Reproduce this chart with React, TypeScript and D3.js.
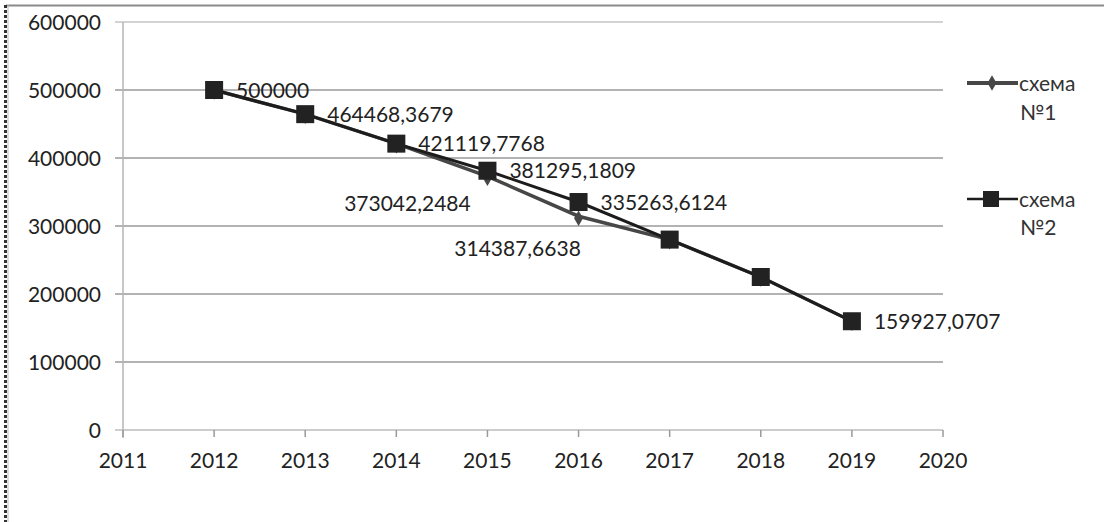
import React from "react";
import * as d3 from "d3";

const W = 1104;
const H = 522;

const years = [2012, 2013, 2014, 2015, 2016, 2017, 2018, 2019];
const scheme1 = [500000, 464468.3679, 421119.7768, 373042.2484, 314387.6638, 280000, 225000, 159927.0707];
const scheme2 = [500000, 464468.3679, 421119.7768, 381295.1809, 335263.6124, 280000, 225000, 159927.0707];
const yTicks = [0, 100000, 200000, 300000, 400000, 500000, 600000];
const xTicks = [2011, 2012, 2013, 2014, 2015, 2016, 2017, 2018, 2019, 2020];
const seriesNames = ["схема", "схема"];
const seriesNums = ["№1", "№2"];

// which points carry a data label
const s1Labelled = [3, 4];
const s2Labelled = [0, 1, 2, 3, 4, 7];
// hand-moved label offsets for scheme 1 (centre of text relative to point)
const s1LabelOffset: Record<number, [number, number]> = { 3: [-80, 27], 4: [-61, 32] };

const FONT = "Lato, 'Open Sans', sans-serif";
const FS = 21;

const fmt = (v: number) => (Number.isInteger(v) ? String(v) : v.toFixed(4).replace(".", ","));

const App = () => {
  const x = d3.scaleLinear().domain([2011, 2020]).range([123, 943]);
  const y = d3.scaleLinear().domain([0, 600000]).range([430, 22]);

  const line = d3
    .line<number>()
    .x((_, i) => x(years[i]))
    .y((d) => y(d));

  const diamond = d3.symbol().type(d3.symbolDiamond).size(70)();

  return (
    <svg
      width={W}
      height={H}
      style={{ position: "absolute", left: 0, top: 0, background: "#fff" }}
      fontFamily={FONT}
    >
      {/* frame leftovers from the scan */}
      <line x1={6} x2={W} y1={5.5} y2={5.5} stroke="#8a8a8a" strokeWidth={2} />
      <line x1={5.5} x2={5.5} y1={5} y2={H} stroke="#333" strokeWidth={3} strokeDasharray="3,2" />
      <line x1={8} x2={8} y1={5} y2={H} stroke="#bbb" strokeWidth={1} />

      {/* gridlines */}
      {yTicks.map((t) => (
        <line
          key={"g" + t}
          x1={115}
          x2={943}
          y1={y(t)}
          y2={y(t)}
          stroke={t === 0 ? "#bdbdbd" : t === 600000 ? "#c4c4c4" : "#9a9a9a"}
          strokeWidth={1.5}
        />
      ))}
      {/* y axis line */}
      <line x1={x(2011)} x2={x(2011)} y1={y(600000)} y2={y(0) + 8} stroke="#b5b5b5" strokeWidth={1.5} />
      {/* x ticks */}
      {xTicks.map((t) => (
        <line key={"t" + t} x1={x(t)} x2={x(t)} y1={y(0)} y2={y(0) + 7} stroke="#9a9a9a" strokeWidth={1.5} />
      ))}

      {/* y labels */}
      {yTicks.map((t) => (
        <text
          key={"yl" + t}
          x={101}
          y={y(t)}
          dy="0.36em"
          textAnchor="end"
          fontSize={FS}
          fill="#222"
        >
          {t}
        </text>
      ))}
      {/* x labels */}
      {xTicks.map((t) => (
        <text key={"xl" + t} x={x(t)} y={468} textAnchor="middle" fontSize={FS} fill="#222">
          {t}
        </text>
      ))}

      {/* scheme 1 */}
      <path d={line(scheme1) || ""} fill="none" stroke="#474747" strokeWidth={3.5} />
      {scheme1.map((v, i) => (
        <path key={"d" + i} d={diamond} transform={`translate(${x(years[i])},${y(v) + 2})`} fill="#474747" />
      ))}

      {/* scheme 2 */}
      <path d={line(scheme2) || ""} fill="none" stroke="#1c1c1c" strokeWidth={3} />
      {scheme2.map((v, i) => (
        <rect key={"s" + i} x={x(years[i]) - 9} y={y(v) - 9} width={18} height={18} fill="#222" />
      ))}

      {/* data labels */}
      {s2Labelled.map((i) => (
        <text
          key={"l2" + i}
          x={x(years[i]) + 22}
          y={y(scheme2[i])}
          dy="0.36em"
          fontSize={FS}
          fill="#222"
        >
          {fmt(scheme2[i])}
        </text>
      ))}
      {s1Labelled.map((i) => (
        <text
          key={"l1" + i}
          x={x(years[i]) + s1LabelOffset[i][0]}
          y={y(scheme1[i]) + s1LabelOffset[i][1]}
          dy="0.36em"
          textAnchor="middle"
          fontSize={FS}
          fill="#222"
        >
          {fmt(scheme1[i])}
        </text>
      ))}

      {/* legend */}
      <g transform="translate(967,83)">
        <line x1={0} x2={51} y1={0} y2={0} stroke="#474747" strokeWidth={4} />
        <path d={diamond} transform="translate(25,0)" fill="#474747" />
        <text x={52} y={0} dy="0.36em" fontSize={FS} fill="#333">
          {seriesNames[0]}
        </text>
        <text x={53} y={29} dy="0.36em" fontSize={FS} fill="#333">
          {seriesNums[0]}
        </text>
      </g>
      <g transform="translate(967,199)">
        <line x1={0} x2={51} y1={0} y2={0} stroke="#1c1c1c" strokeWidth={2.5} />
        <rect x={16} y={-8} width={16} height={16} fill="#222" />
        <text x={52} y={0} dy="0.36em" fontSize={FS} fill="#333">
          {seriesNames[1]}
        </text>
        <text x={53} y={28} dy="0.36em" fontSize={FS} fill="#333">
          {seriesNums[1]}
        </text>
      </g>
    </svg>
  );
};

export default App;
